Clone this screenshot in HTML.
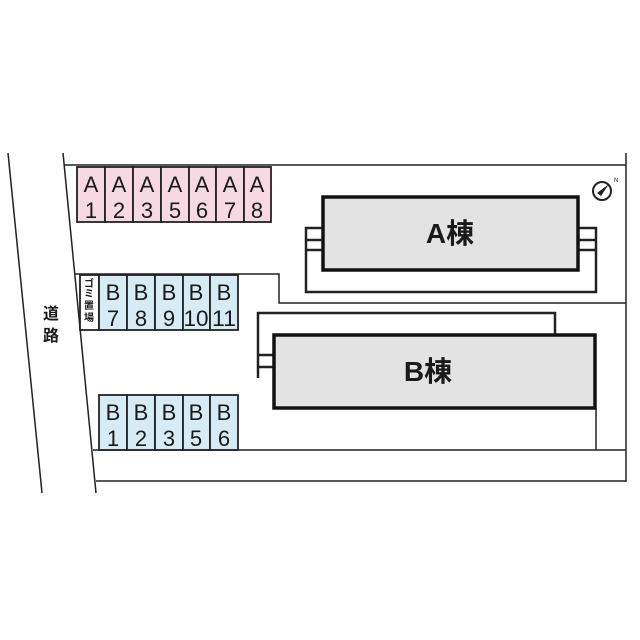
<!DOCTYPE html>
<html><head><meta charset="utf-8"><style>
html,body{margin:0;padding:0;background:#fff}
svg{display:block}
text{font-family:"Liberation Sans","Noto Sans CJK JP",sans-serif;fill:#1a1a1a}
</style></head><body>
<svg width="640" height="640" viewBox="0 0 640 640" xmlns="http://www.w3.org/2000/svg">
<g stroke="#222" fill="none" stroke-width="1.5">
<line x1="8" y1="153" x2="42" y2="493"/>
<line x1="63" y1="153" x2="96" y2="493"/>
<polyline points="64,165 626,165"/>
<line x1="626" y1="153" x2="626" y2="482"/>
<line x1="96" y1="481" x2="626" y2="481"/>
<line x1="93" y1="450" x2="626" y2="450"/>
<polyline points="74,274 279,274 279,303 626,303"/>
<line x1="596" y1="408" x2="596" y2="450"/>
</g>
<g stroke="#222" stroke-width="1.8" fill="#f6d9e3">
<rect x="77" y="167" width="28" height="55"/><rect x="105" y="167" width="28" height="55"/>
<rect x="133" y="167" width="28" height="55"/><rect x="161" y="167" width="28" height="55"/>
<rect x="189" y="167" width="27" height="55"/><rect x="216" y="167" width="28" height="55"/>
<rect x="244" y="167" width="27" height="55"/>
</g>
<g font-size="22" text-anchor="middle">
<text x="91" y="192">A</text><text x="91" y="218">1</text>
<text x="119" y="192">A</text><text x="119" y="218">2</text>
<text x="147" y="192">A</text><text x="147" y="218">3</text>
<text x="175" y="192">A</text><text x="175" y="218">5</text>
<text x="202" y="192">A</text><text x="202" y="218">6</text>
<text x="230" y="192">A</text><text x="230" y="218">7</text>
<text x="257" y="192">A</text><text x="257" y="218">8</text>
</g>
<g stroke="#222" stroke-width="1.8" fill="#d6ebf5">
<rect x="80" y="275" width="19" height="55" fill="#fff"/>
<rect x="99" y="275" width="28" height="55"/><rect x="127" y="275" width="28" height="55"/>
<rect x="155" y="275" width="28" height="55"/><rect x="183" y="275" width="27" height="55"/>
<rect x="210" y="275" width="28" height="55"/>
<rect x="99" y="395" width="28" height="55"/><rect x="127" y="395" width="28" height="55"/>
<rect x="155" y="395" width="28" height="55"/><rect x="183" y="395" width="27" height="55"/>
<rect x="210" y="395" width="28" height="55"/>
</g>
<g font-size="22" text-anchor="middle">
<text x="113" y="300">B</text><text x="113" y="326">7</text>
<text x="141" y="300">B</text><text x="141" y="326">8</text>
<text x="169" y="300">B</text><text x="169" y="326">9</text>
<text x="196" y="300">B</text><text x="196" y="326" textLength="25" lengthAdjust="spacingAndGlyphs">10</text>
<text x="224" y="300">B</text><text x="224" y="326" textLength="24" lengthAdjust="spacingAndGlyphs">11</text>
<text x="113" y="420">B</text><text x="113" y="446">1</text>
<text x="141" y="420">B</text><text x="141" y="446">2</text>
<text x="169" y="420">B</text><text x="169" y="446">3</text>
<text x="196" y="420">B</text><text x="196" y="446">5</text>
<text x="224" y="420">B</text><text x="224" y="446">6</text>
</g>
<g font-size="10" text-anchor="middle" font-weight="bold">
<text x="89" y="287">ゴ</text><text x="89" y="297">ミ</text><text x="89" y="309">置</text><text x="89" y="321">場</text>
</g>
<text x="51" y="319" font-size="16" text-anchor="middle" font-weight="bold">道</text>
<text x="51" y="341" font-size="16" text-anchor="middle" font-weight="bold">路</text>
<g stroke="#222" fill="none" stroke-width="2.5">
<rect x="306" y="228" width="290" height="64"/>
<line x1="306" y1="240" x2="323" y2="240"/><line x1="306" y1="250" x2="323" y2="250"/>
<line x1="578" y1="240" x2="596" y2="240"/><line x1="578" y1="250" x2="596" y2="250"/>
<polyline points="258,378 258,313 555,313 555,334"/>
<line x1="258" y1="355" x2="274" y2="355"/><line x1="258" y1="367" x2="274" y2="367"/>
</g>
<rect x="323" y="197" width="255" height="73" fill="#e3e3e3" stroke="#111" stroke-width="3.5"/>
<rect x="274" y="335" width="321" height="73" fill="#e3e3e3" stroke="#111" stroke-width="3.5"/>
<text x="450" y="243" font-size="28" text-anchor="middle" font-weight="bold">A棟</text>
<text x="428" y="381" font-size="28" text-anchor="middle" font-weight="bold">B棟</text>
<circle cx="602" cy="191" r="9" fill="none" stroke="#222" stroke-width="2"/>
<polygon points="609,184 597,193 601,196" fill="#222"/>
<text x="614" y="182" font-size="6">N</text>
</svg>
</body></html>
